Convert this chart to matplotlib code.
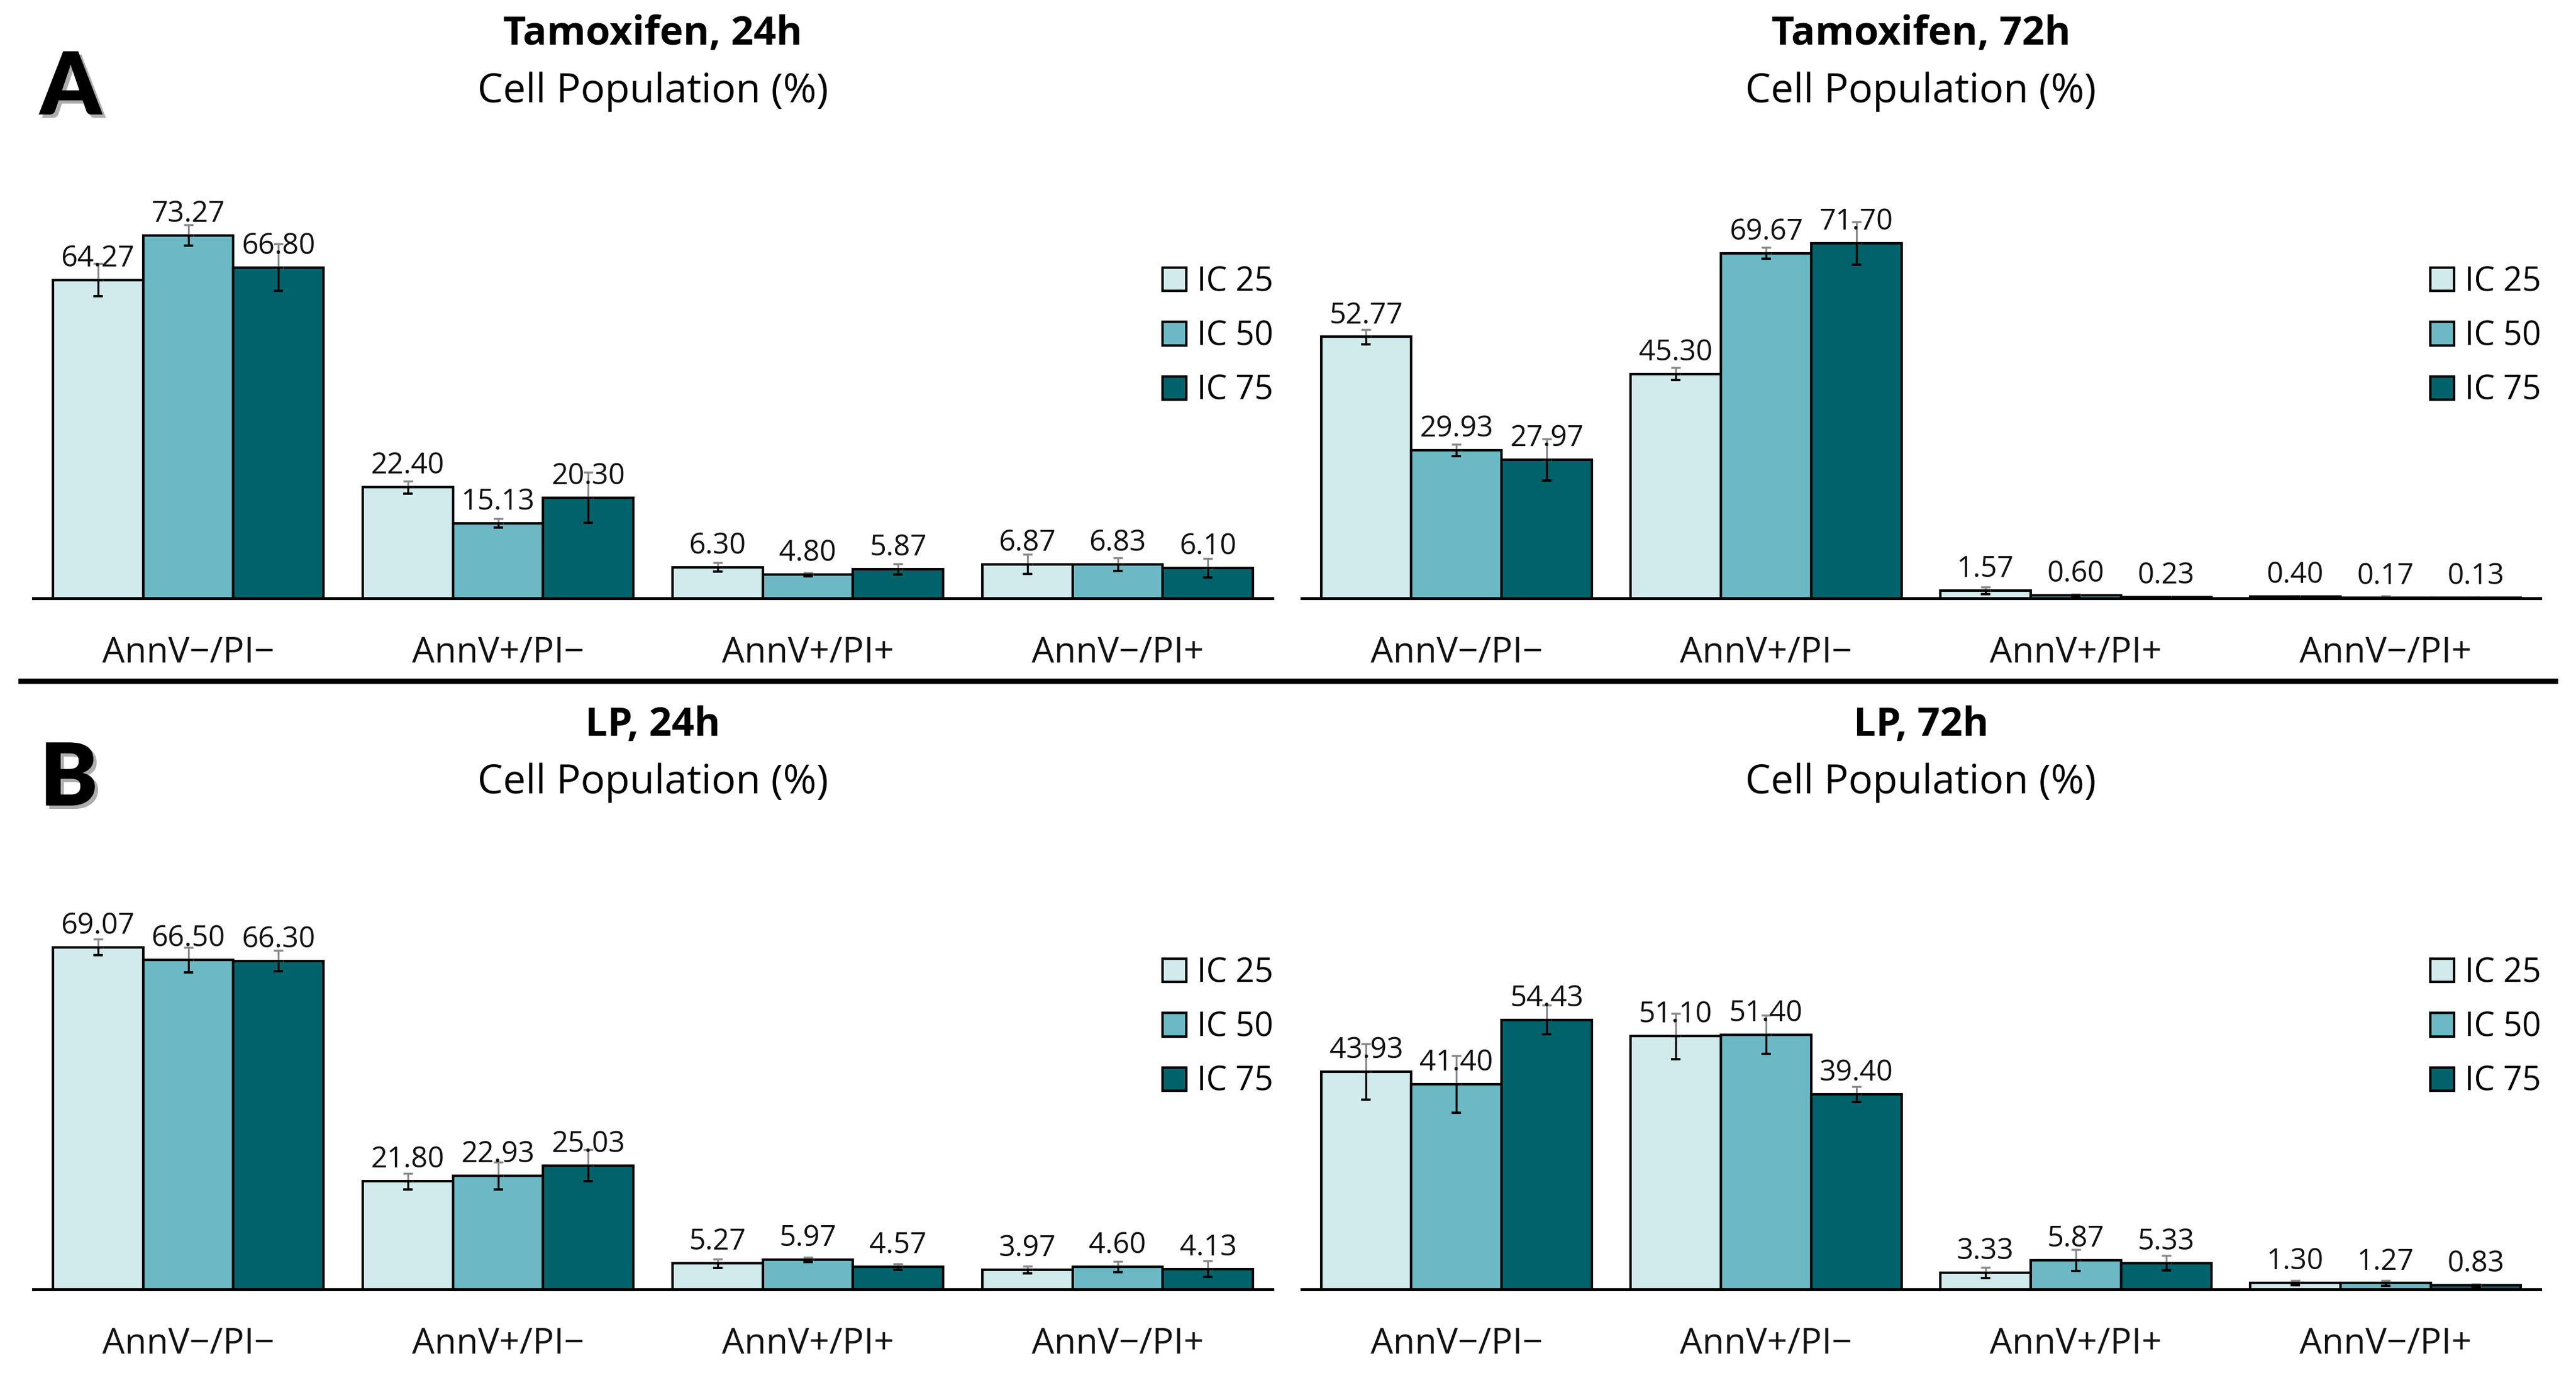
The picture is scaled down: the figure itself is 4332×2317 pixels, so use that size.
import matplotlib
matplotlib.use("Agg")
import matplotlib.pyplot as plt
import matplotlib.patheffects as pe
from matplotlib.lines import Line2D
import numpy as np

plt.rcParams['font.family'] = ['Open Sans', 'DejaVu Sans']

categories = ["AnnV\u2212/PI\u2212", "AnnV+/PI\u2212", "AnnV+/PI+", "AnnV\u2212/PI+"]
series = ["IC 25", "IC 50", "IC 75"]
colors = ["#D1EAEC", "#6CB9C5", "#00626A"]

panel_titles = ["Tamoxifen, 24h", "Tamoxifen, 72h", "LP, 24h", "LP, 72h"]
panel_letters = ["A", "B"]

# values[series][category]
tam24 = [[64.27, 22.40, 6.30, 6.87],
         [73.27, 15.13, 4.80, 6.83],
         [66.80, 20.30, 5.87, 6.10]]
tam24_err = [[3.3, 1.3, 0.9, 2.0],
             [2.1, 0.9, 0.35, 1.3],
             [4.7, 5.1, 1.1, 1.9]]

tam72 = [[52.77, 45.30, 1.57, 0.40],
         [29.93, 69.67, 0.60, 0.17],
         [27.97, 71.70, 0.23, 0.13]]
tam72_err = [[1.45, 1.3, 0.75, 0.1],
             [1.2, 1.1, 0.3, 0.3],
             [4.2, 4.3, 0.1, 0.1]]

lp24 = [[69.07, 21.80, 5.27, 3.97],
        [66.50, 22.93, 5.97, 4.60],
        [66.30, 25.03, 4.57, 4.13]]
lp24_err = [[1.6, 1.65, 0.9, 0.76],
            [2.55, 2.8, 0.5, 1.1],
            [2.1, 3.2, 0.6, 1.65]]

lp72 = [[43.93, 51.10, 3.33, 1.30],
        [41.40, 51.40, 5.87, 1.27],
        [54.43, 39.40, 5.33, 0.83]]
lp72_err = [[5.6, 4.6, 1.1, 0.5],
            [5.8, 3.9, 2.2, 0.5],
            [2.9, 1.56, 1.5, 0.3]]

panels = [(tam24, tam24_err), (tam72, tam72_err), (lp24, lp24_err), (lp72, lp72_err)]

W, H = 4332, 2317
DPI = 100
fig = plt.figure(figsize=(W / DPI, H / DPI), dpi=DPI)

PX_PER_UNIT = 8.33
AX_TOP_OFF = 706  # px above baseline
ax_x = [(56, 2140), (2189, 4272)]
ax_base = [1006, 2168]

bar_w = 0.2917
offsets = [-bar_w, 0, bar_w]

for i, (vals, errs) in enumerate(panels):
    col = i % 2
    row = i // 2
    x0, x1 = ax_x[col]
    base = ax_base[row]
    left = x0 / W
    width = (x1 - x0) / W
    bottom = 1 - base / H
    height = AX_TOP_OFF / H
    ax = fig.add_axes([left, bottom, width, height])
    ax.set_xlim(-0.5, 3.5)
    ax.set_ylim(0, AX_TOP_OFF / PX_PER_UNIT)
    x = np.arange(len(categories))
    handles = []
    for s in range(3):
        xs = x + offsets[s]
        b = ax.bar(xs, vals[s], width=bar_w, color=colors[s], edgecolor="black",
                   linewidth=3.0, label=series[s], zorder=2)
        handles.append(b)
    for s in range(3):
        xs = x + offsets[s]
        v = np.array(vals[s])
        e = np.array(errs[s])
        zeros = np.zeros_like(e)
        # upper half grey
        ax.errorbar(xs, v, yerr=[zeros, e], fmt="none", ecolor="#8a8a8a",
                    elinewidth=2.2, capsize=6, capthick=2.5, zorder=3)
        # lower half black
        ax.errorbar(xs, v, yerr=[e, zeros], fmt="none", ecolor="black",
                    elinewidth=2.4, capsize=6, capthick=2.8, zorder=4)
        for xi, vi in zip(xs, v):
            ax.annotate(f"{vi:.2f}", (xi, vi), xytext=(0, 16.5), textcoords="offset points",
                        ha="center", va="baseline", fontsize=35, color="#111111", zorder=5)
    for sp in ["top", "right", "left"]:
        ax.spines[sp].set_visible(False)
    ax.spines["bottom"].set_linewidth(3.6)
    ax.spines["bottom"].set_zorder(6)
    ax.set_yticks([])
    ax.set_xticks(x)
    ax.set_xticklabels(categories, fontsize=43, color="#111111")
    ax.tick_params(axis="x", length=0, pad=45)

    leg_left = (x1 - 185) / W
    leg_top = 1 - (base - 1006 + 446) / H
    ax.legend(handles=handles, labels=series, loc="upper left",
              bbox_to_anchor=(leg_left, leg_top), bbox_transform=fig.transFigure,
              frameon=False, fontsize=40, handlelength=0.72, handleheight=0.72,
              handletextpad=0.32, labelspacing=0.62, borderpad=0, borderaxespad=0)

    cx = (x0 + x1) / 2 / W
    fig.text(cx, 1 - (base - 1006 + 57) / H, panel_titles[i], ha="center", va="center",
             fontsize=48, fontweight="bold", color="black")
    fig.text(cx, 1 - (base - 1006 + 154) / H, "Cell Population (%)", ha="center", va="center",
             fontsize=49, color="black")

for r, letter in enumerate(panel_letters):
    t = fig.text(67 / W, 1 - (ax_base[r] - 1006 + 150) / H, letter, ha="left", va="center",
                 fontsize=105, fontweight="heavy", family=["Lato", "DejaVu Sans"], color="black")
    t.set_path_effects([pe.SimplePatchShadow(offset=(4, -4), shadow_rgbFace="#777777", alpha=0.6),
                        pe.Normal()])

fig.add_artist(Line2D([35 / W, 4297 / W], [1 - 1145 / H, 1 - 1145 / H],
                      transform=fig.transFigure, color="black", linewidth=6.5))

fig.savefig("out.png", dpi=DPI, facecolor="white")
